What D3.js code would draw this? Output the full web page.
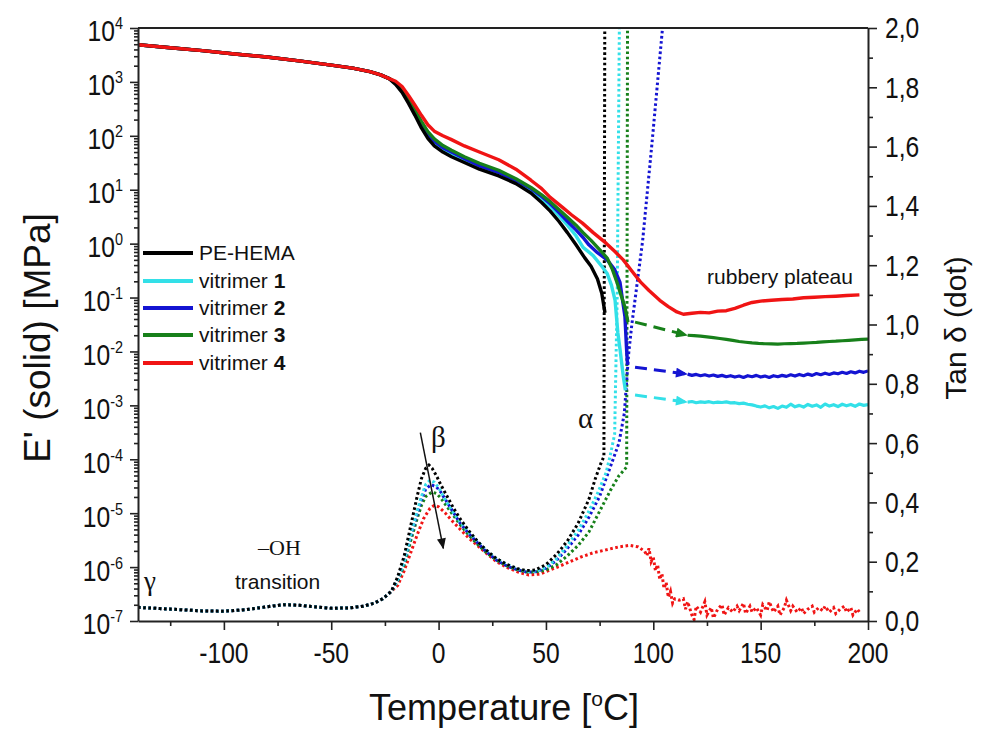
<!DOCTYPE html>
<html>
<head>
<meta charset="utf-8">
<script src="https://cdn.jsdelivr.net/npm/d3@7"></script>
<style>
  html, body { margin: 0; padding: 0; background: #fff; }
  svg { display: block; }
  text { font-family: "Liberation Sans", Arial, Helvetica, sans-serif; fill: #111; }
  .serif { font-family: "Liberation Serif", "Times New Roman", serif; }
</style>
</head>
<body>
<svg id="chart" width="981" height="734"></svg>
<script>
// ---- Storage modulus E' (MPa) vs temperature (°C) ----
const glassyE = [[-140,4900],[-125,4300],[-110,3800],[-95,3300],[-80,2900],[-65,2450],[-50,2050],[-40,1800],[-32,1550],[-27,1350],[-23,1150]];

const ePEHEMA = [[-20,900],[-17,640],[-14,400],[-11,240],[-8,140],[-5,90],[-2,65],[2,50],[6,41],[12,32],[19,24],[28,18],[36,13],[43,8.7],[48,5.8],[52,4],[56,2.6],[60,1.6],[64,0.95],[68,0.55],[71,0.38],[74,0.22],[76,0.12],[77.5,0.052]];
const eV1 = [[-20,940],[-17,680],[-14,430],[-11,265],[-8,160],[-5,102],[-2,74],[2,56],[6,46],[12,36],[19,27],[28,20],[36,14.5],[43,9.8],[48,6.8],[52,4.9],[56,3.3],[60,2.2],[64,1.4],[67.3,0.85],[72,0.6],[76,0.38],[78.5,0.28],[80.5,0.17],[82.2,0.089],[83.5,0.022],[84.5,0.011],[86,0.0035],[87,0.0019]];
const eV2 = [[-20,960],[-17,700],[-14,450],[-11,280],[-8,170],[-5,110],[-2,80],[2,60],[6,50],[12,38],[19,28],[28,21],[36,15],[43,10.5],[48,7.5],[52,5.5],[56,3.8],[60,2.6],[64,1.8],[67.3,1.3],[70,0.95],[74,0.68],[78.5,0.5],[82,0.33],[84.5,0.19],[86.8,0.044],[87.5,0.012],[88,0.0056]];
const eV3 = [[-20,1000],[-17,740],[-14,480],[-11,300],[-8,185],[-5,120],[-2,88],[2,66],[6,54],[12,41],[19,31],[28,23],[36,16],[43,11],[48,8],[52,6],[56,4.3],[60,3.1],[64,2.2],[67.3,1.6],[71,1.15],[75.2,0.76],[78.5,0.54],[81,0.33],[83.1,0.19],[85,0.11],[86.8,0.066],[88.2,0.035]];
const eV4 = [[-20,1030],[-17,820],[-14,560],[-11,370],[-8,240],[-5,160],[-2,122],[2,100],[6,85],[12,65],[19,50],[28,36],[36,24],[43,15],[48,10.5],[52,7.2],[58,4.6],[62,3.4],[67,2.4],[72,1.6],[78,1.02],[82,0.72],[86,0.5],[90,0.31],[94,0.195],[98,0.135],[103,0.089],[107,0.068],[111,0.054],[114,0.049],[118,0.051],[122,0.053],[126,0.052],[130,0.056],[134,0.057],[138,0.063],[142,0.072],[146,0.081],[150,0.086],[155,0.089],[160,0.092],[165,0.094],[170,0.099],[175,0.101],[180,0.104],[185,0.106],[190,0.109],[196,0.112]];

// rubbery plateau after the gap (vitrimers 1-3)
const plateauV1 = [[116,1.15e-3],[118,1.18e-3],[120,1.12e-3],[122,1.16e-3],[124,1.14e-3],[126,1.17e-3],[128,1.12e-3],[130,1.15e-3],[132,1.13e-3],[134,1.16e-3],[136,1.11e-3],[138,1.12e-3],[140,1.08e-3],[142,1.10e-3],[144,1.05e-3],[146,1.02e-3],[148,0.97e-3],[150,0.93e-3],[152,0.98e-3],[154,0.90e-3],[156,0.95e-3],[158,0.88e-3],[160,0.97e-3],[162,0.92e-3],[164,1.05e-3],[166,0.94e-3],[168,1.0e-3],[170,0.93e-3],[172,1.04e-3],[174,0.96e-3],[176,1.02e-3],[178,0.92e-3],[180,1.06e-3],[182,0.97e-3],[184,1.03e-3],[186,0.95e-3],[188,1.05e-3],[190,0.98e-3],[192,1.04e-3],[194,0.96e-3],[196,1.06e-3],[198,1.0e-3],[200,1.03e-3]];
const plateauV2 = [[116,3.8e-3],[118,3.6e-3],[120,3.75e-3],[122,3.55e-3],[124,3.7e-3],[126,3.5e-3],[128,3.65e-3],[130,3.45e-3],[132,3.6e-3],[134,3.4e-3],[136,3.55e-3],[138,3.35e-3],[140,3.5e-3],[142,3.3e-3],[144,3.55e-3],[146,3.4e-3],[148,3.6e-3],[150,3.35e-3],[152,3.5e-3],[154,3.3e-3],[156,3.55e-3],[158,3.4e-3],[160,3.6e-3],[162,3.45e-3],[164,3.7e-3],[166,3.5e-3],[168,3.75e-3],[170,3.55e-3],[172,3.8e-3],[174,3.6e-3],[176,3.9e-3],[178,3.7e-3],[180,3.95e-3],[182,3.75e-3],[184,4.0e-3],[186,3.85e-3],[188,4.1e-3],[190,3.9e-3],[192,4.2e-3],[194,4.0e-3],[196,4.3e-3],[198,4.1e-3],[200,4.35e-3]];
const plateauV3 = [[116,0.0200],[119,0.0196],[122,0.0192],[125,0.0186],[128,0.0180],[131,0.0174],[134,0.0167],[137,0.0160],[140,0.0153],[143,0.0148],[146,0.0144],[149,0.0141],[152,0.0139],[155,0.0138],[158,0.0137],[161,0.0139],[164,0.0140],[167,0.0141],[170,0.0143],[173,0.0145],[176,0.0147],[179,0.0150],[182,0.0153],[185,0.0155],[188,0.0158],[191,0.0161],[194,0.0164],[197,0.0167],[200,0.0170]];

// dashed bridges across the unmeasured span (start, arrow tip)
const gapV1 = [[91.5,0.00155],[115.7,0.00115]];
const gapV2 = [[91.5,0.0051],[115.7,0.0038]];
const gapV3 = [[91.5,0.035],[115.7,0.020]];

// ---- tan δ vs temperature ----
const tanBase = [[-140,0.046],[-130,0.042],[-120,0.038],[-110,0.034],[-100,0.033],[-90,0.038],[-80,0.048],[-72,0.055],[-65,0.053],[-58,0.048],[-50,0.043],[-42,0.044],[-35,0.05],[-30,0.06],[-26,0.075],[-22,0.1]];
const tanPEHEMA = [[-19,0.15],[-16,0.22],[-13,0.32],[-10,0.42],[-8,0.48],[-6,0.515],[-4.5,0.526],[-3,0.515],[-1,0.49],[1,0.46],[4,0.42],[7,0.38],[10,0.345],[14,0.305],[18,0.27],[22,0.24],[27,0.21],[32,0.19],[37,0.176],[41,0.17],[45,0.172],[50,0.19],[55,0.225],[60,0.27],[65,0.33],[70,0.41],[73,0.48],[75.5,0.53],[77,0.555],[77.4,2.0]];
const tanV1 = [[-19,0.14],[-16,0.2],[-13,0.29],[-10,0.37],[-8,0.42],[-6,0.46],[-4,0.475],[-2,0.468],[0,0.45],[3,0.41],[6,0.375],[10,0.335],[14,0.3],[18,0.27],[22,0.24],[27,0.21],[32,0.19],[37,0.175],[41,0.167],[45,0.168],[50,0.18],[55,0.21],[60,0.255],[65,0.305],[70,0.37],[74,0.43],[78,0.5],[80,0.56],[82,0.63],[83.2,1.1],[84.2,2.0]];
const tanV2 = [[-19,0.14],[-16,0.2],[-13,0.285],[-10,0.36],[-8,0.41],[-6,0.445],[-3.5,0.46],[-1,0.452],[1,0.435],[4,0.4],[7,0.365],[10,0.33],[14,0.295],[18,0.265],[22,0.235],[27,0.205],[32,0.185],[37,0.172],[41,0.165],[45,0.166],[50,0.178],[55,0.205],[60,0.245],[65,0.29],[70,0.35],[75,0.42],[80,0.52],[84,0.6],[86.5,0.7],[87.5,0.8],[88.5,0.9],[90,1.0],[95,1.28],[99.5,1.62],[104.3,2.0]];
const tanV3 = [[-19,0.135],[-16,0.19],[-13,0.27],[-10,0.345],[-8,0.39],[-6,0.42],[-3,0.435],[-1,0.43],[1,0.415],[4,0.385],[7,0.355],[10,0.325],[14,0.29],[18,0.26],[22,0.232],[27,0.205],[32,0.185],[37,0.172],[41,0.165],[45,0.165],[50,0.172],[55,0.19],[60,0.22],[65,0.255],[70,0.3],[75,0.37],[80,0.44],[84,0.49],[86.5,0.51],[87.6,0.52],[88,2.0]];
const tanV4 = [[-19,0.12],[-16,0.17],[-13,0.23],[-10,0.29],[-7,0.345],[-4,0.38],[-2,0.39],[0,0.385],[3,0.365],[6,0.34],[10,0.31],[14,0.28],[18,0.255],[22,0.23],[27,0.2],[32,0.18],[37,0.165],[42,0.155],[47,0.158],[52,0.172],[58,0.19],[66,0.215],[72,0.23],[78,0.24],[84,0.25],[89,0.255],[93,0.25],
  [96,0.235],[97,0.22],[98,0.245],[99,0.2],[100,0.215],[101,0.17],[102,0.19],[103,0.14],[104,0.16],[105,0.11],[106,0.13],[107,0.08],[108,0.1],[109,0.06],[110,0.075],[112,0.07],[114,0.075],[115,0.04],[116,0.065],[118,0.02],[119,0.005],[120,0.05],[122,0.03],[124,0.065],[125,0.02],[127,0.045],[128,0.01],[130,0.04],[132,0.055],[133,0.02],[135,0.045],[137,0.03],[139,0.05],[140,0.035],[142,0.06],[143,0.025],[145,0.05],[146,0.03],[148,0.045],[150,0.02],[151,0.055],[153,0.035],[154,0.065],[156,0.03],[158,0.05],[159,0.02],[161,0.045],[162,0.07],[164,0.035],[165,0.05],[167,0.03],[169,0.045],[170,0.025],[172,0.04],[174,0.05],[175,0.03],[177,0.045],[179,0.035],[180,0.05],[182,0.03],[184,0.045],[185,0.025],[187,0.04],[189,0.05],[190,0.03],[192,0.045],[193,0.02],[195,0.04],[196,0.03]];

// ---- series, ticks, labels ----
const seriesNames = ["PE-HEMA", "vitrimer 1", "vitrimer 2", "vitrimer 3", "vitrimer 4"];
const seriesColors = ["#000000", "#33e0e8", "#1414d2", "#17801a", "#f01414"];
const xMajorTicks = [-100, -50, 0, 50, 100, 150, 200];
const xMinorTicks = [-125, -75, -25, 25, 75, 125, 175];
const yLeftExponents = [4, 3, 2, 1, 0, -1, -2, -3, -4, -5, -6, -7];
const yRightTicks = [0, 0.2, 0.4, 0.6, 0.8, 1.0, 1.2, 1.4, 1.6, 1.8, 2.0];
const yRightMinor = [0.1, 0.3, 0.5, 0.7, 0.9, 1.1, 1.3, 1.5, 1.7, 1.9];

const svg = d3.select("#chart");
const x = d3.scaleLinear().domain([-140, 200]).range([138, 868]);
const yL = d3.scaleLog().domain([1e-7, 1e4]).range([621, 28]);
const yR = d3.scaleLinear().domain([0, 2]).range([621, 28]);

// condensed label: text drawn at the origin of a horizontally squeezed group
const NARROW = 0.85;
function narrowText(x0, y0, size, anchor) {
  return svg.append("g").attr("transform", `translate(${x0},${y0}) scale(${NARROW},1)`)
    .append("text").attr("text-anchor", anchor).attr("font-size", size);
}

const defs = svg.append("defs");
defs.append("clipPath").attr("id", "plotClip")
  .append("rect").attr("x", 138).attr("y", 28).attr("width", 730).attr("height", 593);
seriesColors.forEach((c, i) => {
  defs.append("marker").attr("id", "arrow" + i)
    .attr("viewBox", "0 0 12 10").attr("refX", 11).attr("refY", 5)
    .attr("markerWidth", 13).attr("markerHeight", 10)
    .attr("markerUnits", "userSpaceOnUse").attr("orient", "auto")
    .append("path").attr("d", "M0,0 L12,5 L0,10 Z").attr("fill", c);
});

const plot = svg.append("g").attr("clip-path", "url(#plotClip)");
const lineL = d3.line().x(d => x(d[0])).y(d => yL(d[1]));
const lineR = d3.line().x(d => x(d[0])).y(d => yR(d[1]));

// tan δ dotted curves (drawn underneath)
const tanSets = [tanPEHEMA, tanV1, tanV2, tanV3, tanV4];
[4, 3, 2, 1, 0].forEach(i => {
  plot.append("path").datum(tanBase.concat(tanSets[i]))
    .attr("d", lineR).attr("fill", "none")
    .attr("stroke", seriesColors[i]).attr("stroke-width", 3)
    .attr("stroke-dasharray", "2.6,2.6");
});

// E' solid curves
const eSets = [ePEHEMA, eV1, eV2, eV3, eV4];
const plateaus = [null, plateauV1, plateauV2, plateauV3, null];
const gaps = [null, gapV1, gapV2, gapV3, null];
[1, 2, 3, 0, 4].forEach(i => {
  plot.append("path").datum(glassyE.concat(eSets[i]))
    .attr("d", lineL).attr("fill", "none")
    .attr("stroke", seriesColors[i]).attr("stroke-width", 3.4)
    .attr("stroke-linejoin", "round");
  if (gaps[i]) {
    plot.append("path").datum(gaps[i])
      .attr("d", lineL).attr("fill", "none")
      .attr("stroke", seriesColors[i]).attr("stroke-width", 3)
      .attr("stroke-dasharray", "12,7")
      .attr("marker-end", "url(#arrow" + i + ")");
    plot.append("path").datum(plateaus[i])
      .attr("d", lineL).attr("fill", "none")
      .attr("stroke", seriesColors[i]).attr("stroke-width", 3.2)
      .attr("stroke-linejoin", "round");
  }
});

// ---- axes ----
const axisStyle = g => {
  g.selectAll(".domain").attr("stroke", "#222").attr("stroke-width", 2);
  g.selectAll(".tick line").attr("stroke", "#222").attr("stroke-width", 1.6);
  g.selectAll(".tick text").remove();
};

// bottom
svg.append("g").attr("transform", "translate(0,621)")
  .call(d3.axisBottom(x).tickValues(xMinorTicks).tickSize(5).tickFormat(""))
  .call(axisStyle).call(g => g.select(".domain").remove());
svg.append("g").attr("transform", "translate(0,621)")
  .call(d3.axisBottom(x).tickValues(xMajorTicks).tickSize(9).tickSizeOuter(0))
  .call(axisStyle);
xMajorTicks.forEach(v => {
  narrowText(x(v), 653, 29, "middle").attr("dy", "0.36em").text(String(v).replace("\u2212", "-"));
});

// top frame
svg.append("line").attr("x1", 138).attr("x2", 868).attr("y1", 28).attr("y2", 28)
  .attr("stroke", "#222").attr("stroke-width", 2);

// left (log) axis
const leftMinor = [];
for (let e = -7; e < 4; e++) for (let m = 2; m <= 9; m++) leftMinor.push(m * Math.pow(10, e));
svg.append("g").attr("transform", "translate(138,0)")
  .call(d3.axisLeft(yL).tickValues(leftMinor).tickSize(4).tickFormat(""))
  .call(axisStyle).call(g => g.select(".domain").remove());
svg.append("g").attr("transform", "translate(138,0)")
  .call(d3.axisLeft(yL).tickValues(yLeftExponents.map(e => Math.pow(10, e))).tickSize(8).tickSizeOuter(0))
  .call(axisStyle);
yLeftExponents.forEach(e => {
  const t = narrowText(123, yL(Math.pow(10, e)) + 3, 29, "end");
  t.append("tspan").attr("dy", "0.36em").text("10");
  t.append("tspan").attr("font-size", 17).attr("dy", -12).text(String(e));
});

// right (tan δ) axis
svg.append("g").attr("transform", "translate(868,0)")
  .call(d3.axisRight(yR).tickValues(yRightMinor).tickSize(5).tickFormat(""))
  .call(axisStyle).call(g => g.select(".domain").remove());
svg.append("g").attr("transform", "translate(868,0)")
  .call(d3.axisRight(yR).tickValues(yRightTicks).tickSize(9).tickSizeOuter(0))
  .call(axisStyle);
yRightTicks.forEach(v => {
  narrowText(885, yR(v), 29, "start").attr("dy", "0.36em").text(d3.format(".1f")(v).replace(".", ","));
});

// axis titles
svg.append("text").attr("transform", "translate(50,338) rotate(-90)")
  .attr("text-anchor", "middle").attr("font-size", 37).text("E' (solid) [MPa]");
svg.append("text").attr("transform", "translate(966,328) rotate(-90)")
  .attr("text-anchor", "middle").attr("font-size", 30).text("Tan δ (dot)");
const xt = svg.append("text").attr("x", 504).attr("y", 720)
  .attr("text-anchor", "middle").attr("font-size", 36);
xt.append("tspan").text("Temperature [");
xt.append("tspan").attr("font-size", 21).attr("dy", -14).text("o");
xt.append("tspan").attr("dy", 14).text("C]");

// legend
const legendY = [253, 281, 308, 335, 363];
seriesNames.forEach((name, i) => {
  svg.append("line").attr("x1", 143).attr("x2", 193)
    .attr("y1", legendY[i]).attr("y2", legendY[i])
    .attr("stroke", seriesColors[i]).attr("stroke-width", 4);
  const t = svg.append("text").attr("x", 199).attr("y", legendY[i] + 7).attr("font-size", 21);
  if (i === 0) t.text(name);
  else {
    const parts = name.split(" ");
    t.append("tspan").text(parts[0] + " ");
    t.append("tspan").attr("font-weight", "bold").text(parts[1]);
  }
});

// transition annotations
svg.append("text").attr("class", "serif").attr("x", 144).attr("y", 590).attr("font-size", 27).text("γ");
svg.append("text").attr("class", "serif").attr("x", 258).attr("y", 555).attr("font-size", 22).text("–OH");
svg.append("text").attr("x", 235).attr("y", 589).attr("font-size", 21).text("transition");
svg.append("text").attr("class", "serif").attr("x", 431).attr("y", 447).attr("font-size", 29).text("β");
svg.append("text").attr("class", "serif").attr("x", 578).attr("y", 428).attr("font-size", 29).text("α");
svg.append("text").attr("x", 780).attr("y", 284).attr("text-anchor", "middle").attr("font-size", 21).text("rubbery plateau");

// β arrow (peak height decreasing across series)
defs.append("marker").attr("id", "betaArrow")
  .attr("viewBox", "0 0 12 10").attr("refX", 11).attr("refY", 5)
  .attr("markerWidth", 14).attr("markerHeight", 9)
  .attr("markerUnits", "userSpaceOnUse").attr("orient", "auto")
  .append("path").attr("d", "M0,0 L12,5 L0,10 Z").attr("fill", "#111");
svg.append("line").attr("x1", x(-8.5)).attr("y1", yR(0.635)).attr("x2", x(2.2)).attr("y2", yR(0.245))
  .attr("stroke", "#111").attr("stroke-width", 1.5).attr("marker-end", "url(#betaArrow)");
</script>
</body>
</html>
